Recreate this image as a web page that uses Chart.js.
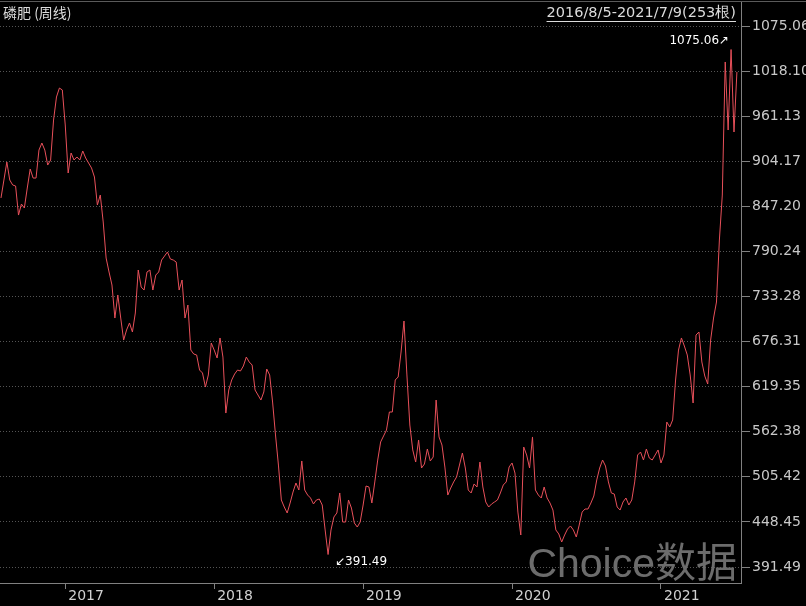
<!DOCTYPE html>
<html>
<head>
<meta charset="utf-8">
<script src="https://cdn.jsdelivr.net/npm/chart.js@4.4.0/dist/chart.umd.min.js"></script>
<style>
  html, body { margin: 0; padding: 0; background: #000; }
  #wrap { width: 806px; height: 606px; }
</style>
</head>
<body>
<div id="wrap"><canvas id="price-chart" width="806" height="606"></canvas></div>
<script>
var title = '磷肥 (周线)';
var rangeText = '2016/8/5-2021/7/9(253根)';
var yearLabels = ['2017', '2018', '2019', '2020', '2021'];
var yearIndex = [22, 73, 124, 175, 226];   // first week of each year in the series
var priceLabels = ['391.49', '448.45', '505.42', '562.38', '619.35', '676.31', '733.28',
                   '790.24', '847.20', '904.17', '961.13', '1018.10', '1075.06'];
var prices = [
  874.1, 898.4, 922.8, 898.4, 891.7, 890.3, 851.0, 865.9, 860.5, 887.6,
  913.3, 901.1, 901.1, 939.0, 948.5, 939.0, 918.7, 925.5, 979.6, 1010.8,
  1022.9, 1020.3, 972.9, 907.9, 935.0, 925.5, 929.6, 925.5, 937.7, 928.2,
  921.4, 914.7, 902.5, 864.6, 878.1, 841.6, 792.8, 773.9, 756.3, 711.6,
  742.8, 711.6, 681.8, 695.4, 704.9, 692.7, 718.4, 776.6, 753.6, 749.5,
  773.9, 776.6, 749.5, 769.8, 773.9, 790.1, 795.5, 801.0, 791.5, 790.1,
  787.4, 749.5, 763.1, 711.6, 729.2, 668.3, 662.9, 661.6, 641.2, 637.2,
  618.2, 634.5, 677.8, 668.3, 657.5, 684.6, 658.8, 583.0, 614.2, 627.7,
  635.8, 641.2, 639.9, 646.7, 658.8, 652.1, 648.0, 614.2, 607.4, 600.6,
  611.5, 642.6, 634.5, 597.9, 553.3, 512.6, 465.3, 455.8, 447.7, 461.2,
  476.1, 488.3, 478.8, 518.1, 478.8, 472.0, 468.0, 459.9, 465.3, 466.6,
  458.5, 424.7, 391.49, 424.7, 442.3, 447.7, 474.8, 435.5, 435.5, 465.3,
  454.4, 434.1, 428.7, 435.5, 458.5, 484.2, 482.9, 461.2, 489.7, 519.4,
  543.8, 551.9, 560.0, 584.4, 584.4, 627.7, 631.8, 665.6, 707.6, 634.5,
  566.8, 533.0, 516.7, 546.5, 508.6, 514.0, 534.3, 518.1, 523.5, 600.6,
  550.6, 539.7, 509.9, 472.0, 481.5, 489.7, 496.4, 512.6, 528.9, 508.6,
  478.8, 474.8, 487.0, 482.9, 516.7, 482.9, 462.6, 455.8, 459.9, 462.6,
  465.3, 474.8, 485.6, 489.7, 510.0, 515.4, 501.8, 449.0, 417.9, 537.0,
  526.2, 508.6, 550.6, 478.8, 472.0, 468.0, 482.9, 468.0, 461.2, 451.7,
  424.7, 419.3, 408.4, 417.9, 426.0, 430.1, 424.7, 415.2, 431.4, 449.0,
  453.1, 453.1, 461.2, 470.7, 492.4, 508.6, 519.4, 511.3, 489.7, 474.8,
  473.4, 455.8, 451.7, 462.6, 468.0, 458.5, 465.3, 489.7, 526.2, 530.2,
  519.4, 534.3, 522.1, 519.4, 526.2, 533.0, 515.4, 526.2, 570.8, 564.1,
  573.6, 627.7, 668.3, 684.6, 673.7, 661.6, 634.5, 596.6, 688.6, 692.7,
  652.1, 633.1, 622.3, 681.8, 711.6, 733.3, 817.2, 878.1, 1058.2, 966.1,
  1075.06, 963.4, 1044.7
];

var lo = Math.min.apply(null, prices);
var hi = Math.max.apply(null, prices);
var span = hi - lo;
var loIdx = prices.indexOf(lo);
var hiIdx = prices.indexOf(hi);

var numFont = '"DejaVu Sans", sans-serif';
var cjkFont = '"Noto Sans CJK SC", "DejaVu Sans", sans-serif';

// texts, watermark and min/max marks drawn straight on the canvas
var decor = {
  id: 'decor',
  beforeDraw: function (chart) {
    var ctx = chart.ctx;
    ctx.save();
    ctx.fillStyle = '#000';
    ctx.fillRect(0, 0, chart.width, chart.height);
    ctx.restore();
  },
  beforeDatasetsDraw: function (chart) {
    var ctx = chart.ctx;
    ctx.save();
    ctx.fillStyle = '#6c6c6c';
    ctx.font = '41px "Liberation Sans", "Noto Sans CJK SC", sans-serif';
    ctx.textBaseline = 'alphabetic';
    ctx.textAlign = 'right';
    ctx.fillText('Choice数据', chart.chartArea.right - 4, 577);
    ctx.restore();
  },
  afterDraw: function (chart) {
    var ctx = chart.ctx;
    var xs = chart.scales.x, ys = chart.scales.y;
    ctx.save();
    // top frame line
    ctx.strokeStyle = '#5a5a5a';
    ctx.lineWidth = 1;
    ctx.beginPath();
    ctx.moveTo(0, 1.5);
    ctx.lineTo(chart.width, 1.5);
    ctx.stroke();

    ctx.fillStyle = '#dcdcdc';
    ctx.textBaseline = 'middle';
    ctx.font = '14px ' + cjkFont;
    ctx.textAlign = 'left';
    ctx.fillText(title, 3, 13);

    ctx.font = '14.5px ' + numFont;
    ctx.textAlign = 'right';
    var rx = chart.chartArea.right - 5;
    ctx.fillText(rangeText, rx, 13);
    var w = ctx.measureText(rangeText).width;
    ctx.strokeStyle = '#dcdcdc';
    ctx.beginPath();
    ctx.moveTo(rx - w, 21.5);
    ctx.lineTo(rx, 21.5);
    ctx.stroke();

    // max / min marks
    ctx.fillStyle = '#ffffff';
    ctx.font = '12px ' + numFont;
    var hx = xs.getPixelForValue(hiIdx), hy = ys.getPixelForValue(hi);
    ctx.textAlign = 'right';
    ctx.fillText(hi.toFixed(2) + '\u2197', hx - 2, hy - 9);
    var lx = xs.getPixelForValue(loIdx), ly = ys.getPixelForValue(lo);
    ctx.textAlign = 'left';
    ctx.fillText('\u2199' + lo.toFixed(2), lx + 7, ly + 7);
    ctx.restore();
  }
};

var chart = new Chart(document.getElementById('price-chart'), {
  type: 'line',
  data: {
    datasets: [{
      label: title,
      data: prices.map(function (v, i) { return { x: i, y: v }; }),
      borderColor: '#e8505a',
      borderWidth: 1,
      pointRadius: 0,
      tension: 0,
      fill: false
    }]
  },
  options: {
    responsive: false,
    animation: false,
    devicePixelRatio: 1,
    layout: { padding: { top: 2, left: 0, right: 0, bottom: 0 } },
    plugins: { legend: { display: false }, tooltip: { enabled: false } },
    scales: {
      x: {
        type: 'linear',
        min: -0.34,
        max: prices.length + 0.4,
        afterBuildTicks: function (s) {
          s.ticks = yearIndex.map(function (v) { return { value: v }; });
        },
        afterFit: function (s) {
          s.height = 23;
          s.paddingLeft = 0;
          s.paddingRight = 0;
        },
        ticks: {
          autoSkip: false,
          maxRotation: 0,
          align: 'start',
          labelOffset: 3,
          padding: -1,
          color: '#d0d0d0',
          font: { family: numFont, size: 14 },
          callback: function (v, i) { return yearLabels[i]; }
        },
        grid: { drawOnChartArea: false, drawTicks: true, tickLength: 6, tickColor: '#808080', color: '#808080' },
        border: { display: true, color: '#808080' }
      },
      y: {
        position: 'right',
        min: lo - span * 0.0564,
        max: hi + span * 0.0941,
        afterBuildTicks: function (s) {
          var bottom = lo - span * 0.02475;
          var step = span * (1 + 0.04653 + 0.02475) / (priceLabels.length - 1);
          s.ticks = priceLabels.map(function (l, i) { return { value: bottom + i * step }; });
        },
        afterFit: function (s) {
          s.width = 65;
          s.paddingTop = 0;
          s.paddingBottom = 0;
        },
        ticks: {
          padding: 2,
          color: '#c8c8c8',
          font: { family: numFont, size: 14 },
          callback: function (v, i) { return priceLabels[i]; }
        },
        grid: { color: '#555555', tickColor: '#808080', tickLength: 9, tickBorderDash: [] },
        border: { display: true, color: '#808080', dash: [1, 2] }
      }
    }
  },
  plugins: [decor]
});
</script>
</body>
</html>
